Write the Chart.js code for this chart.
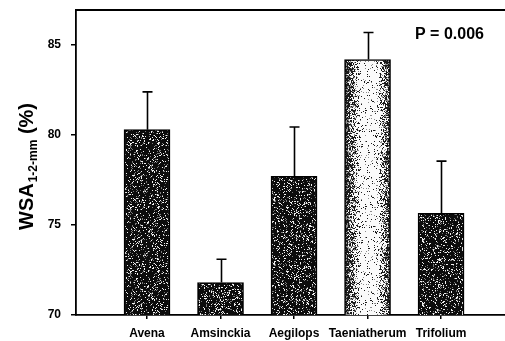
<!DOCTYPE html>
<html>
<head>
<meta charset="utf-8">
<script src="https://cdn.jsdelivr.net/npm/chart.js@4/dist/chart.umd.min.js"></script>
<style>
  html, body { margin: 0; padding: 0; background: #fff; }
  #wrap { width: 505px; height: 341px; position: relative; }
</style>
</head>
<body>
<div id="wrap"><canvas id="c"></canvas></div>
<script>
// Water-stable aggregates (1-2 mm) under each plant species
const categories = ['Avena', 'Amsinckia', 'Aegilops', 'Taeniatherum', 'Trifolium'];
const meanValues = [80.3, 71.8, 77.7, 84.2, 75.65];
const upperError = [2.1, 1.3, 2.75, 1.5, 2.9];
const yTickValues = [70, 75, 80, 85];
const pLabel = 'P = 0.006';

const FONT = '"Liberation Sans", Arial, Helvetica, sans-serif';
const BAR_W = 46;

// Small deterministic generator for the stipple texture
function lcg(seed) {
  let s = seed >>> 0;
  return () => { s = (s * 1664525 + 1013904223) >>> 0; return s / 4294967296; };
}

function darkTile(seed) {
  const c = document.createElement('canvas');
  c.width = 64; c.height = 64;
  const g = c.getContext('2d');
  g.fillStyle = '#0c0c0c';
  g.fillRect(0, 0, 64, 64);
  const r = lcg(seed);
  for (let y = 0; y < 64; y++) {
    for (let x = 0; x < 64; x++) {
      const v = r();
      if (v < 0.11) { g.fillStyle = '#f0f0f0'; g.fillRect(x, y, 1, 1); }
      else if (v < 0.19) { g.fillStyle = '#7a7a7a'; g.fillRect(x, y, 1, 1); }
    }
  }
  return c;
}

function lightTile(seed) {
  const c = document.createElement('canvas');
  c.width = BAR_W; c.height = 96;
  const g = c.getContext('2d');
  g.fillStyle = '#fafafa';
  g.fillRect(0, 0, c.width, c.height);
  const r = lcg(seed);
  for (let y = 0; y < c.height; y++) {
    for (let x = 0; x < c.width; x++) {
      // denser speckle toward both sides of the bar
      const dl = x / 15, dr = (c.width - 1 - x) / 12;
      const edge = Math.max(0, 1 - Math.min(dl, dr));
      const p = 0.06 + 0.65 * edge;
      const v = r();
      if (v < p) { g.fillStyle = '#1a1a1a'; g.fillRect(x, y, 1, 1); }
      else if (v < p * 1.5) { g.fillStyle = '#8c8c8c'; g.fillRect(x, y, 1, 1); }
    }
  }
  return c;
}

const patternCache = {};
function barFill(ctx) {
  const chart = ctx.chart;
  const i = ctx.dataIndex;
  if (i === undefined || !chart.scales || !chart.scales.x) return '#222';
  const key = 'p' + i;
  if (!patternCache[key]) {
    const tile = i === 3 ? lightTile(97 + i) : darkTile(31 + i * 17);
    patternCache[key] = chart.ctx.createPattern(tile, 'repeat');
  }
  const pat = patternCache[key];
  const left = chart.scales.x.getPixelForValue(i) - BAR_W / 2;
  pat.setTransform(new DOMMatrix().translate(Math.round(left), 0));
  return pat;
}

// Upper error whiskers, top frame line, the P label and the y-axis title
const extras = {
  id: 'extras',
  afterDatasetsDraw(chart) {
    const { ctx, scales: { x, y }, chartArea } = chart;
    ctx.save();
    ctx.strokeStyle = '#000';
    ctx.lineWidth = 1.6;
    meanValues.forEach((m, i) => {
      const px = Math.round(x.getPixelForValue(i)) + 0.5;
      const y0 = y.getPixelForValue(m);
      const y1 = y.getPixelForValue(m + upperError[i]);
      ctx.beginPath();
      ctx.moveTo(px, y0);
      ctx.lineTo(px, y1);
      ctx.moveTo(px - 5, y1);
      ctx.lineTo(px + 5, y1);
      ctx.stroke();
    });
    // top frame
    ctx.lineWidth = 2;
    ctx.beginPath();
    ctx.moveTo(chartArea.left - 1, chartArea.top);
    ctx.lineTo(chartArea.right, chartArea.top);
    ctx.stroke();

    ctx.fillStyle = '#000';
    ctx.font = 'bold 16px ' + FONT;
    ctx.textAlign = 'left';
    ctx.textBaseline = 'alphabetic';
    ctx.fillText(pLabel, 415, 39);

    // rotated axis title with subscript
    ctx.translate(33, 230);
    ctx.rotate(-Math.PI / 2);
    ctx.font = 'bold 20px ' + FONT;
    ctx.fillText('WSA', 0, 0);
    let w = ctx.measureText('WSA').width;
    ctx.font = 'bold 12px ' + FONT;
    ctx.fillText('1-2-mm', w + 1, 4);
    w += 1 + ctx.measureText('1-2-mm').width;
    ctx.font = 'bold 20px ' + FONT;
    ctx.fillText(' (%)', w, 0);
    ctx.restore();
  }
};

new Chart(document.getElementById('c'), {
  type: 'bar',
  data: {
    datasets: [{
      data: meanValues.map((v, i) => ({ x: i, y: v })),
      backgroundColor: barFill,
      borderColor: '#000',
      borderWidth: 1.5,
      borderSkipped: 'bottom',
      barThickness: BAR_W
    }]
  },
  options: {
    responsive: true,
    maintainAspectRatio: false,
    animation: false,
    events: [],
    layout: { padding: { top: 10, right: 0, bottom: 0, left: 0 } },
    plugins: { legend: { display: false }, tooltip: { enabled: false } },
    scales: {
      x: {
        type: 'linear',
        offset: false,
        min: -0.966,
        max: 4.87,
        afterBuildTicks(s) { s.ticks = categories.map((_, i) => ({ value: i })); },
        afterFit(s) { s.height = 26; s.paddingLeft = 0; s.paddingRight = 0; },
        grid: { offset: false, drawOnChartArea: false, drawTicks: true, tickLength: 4, color: '#000', lineWidth: 1.5 },
        border: { display: true, color: '#000', width: 1.8 },
        ticks: {
          autoSkip: false,
          maxRotation: 0,
          padding: 7,
          color: '#000',
          font: { family: FONT, size: 12, weight: 'bold' },
          callback: v => categories[v]
        }
      },
      y: {
        min: 70,
        max: 86.95,
        afterBuildTicks(s) { s.ticks = yTickValues.map(v => ({ value: v })); },
        afterFit(s) { s.width = 76; s.paddingTop = 0; s.paddingBottom = 0; },
        grid: { drawOnChartArea: false, drawTicks: true, tickLength: 5, color: '#000', lineWidth: 1.5 },
        border: { display: true, color: '#000', width: 1.8 },
        ticks: {
          padding: 10,
          color: '#000',
          font: { family: FONT, size: 12, weight: 'bold' }
        }
      }
    }
  },
  plugins: [extras]
});
</script>
</body>
</html>
